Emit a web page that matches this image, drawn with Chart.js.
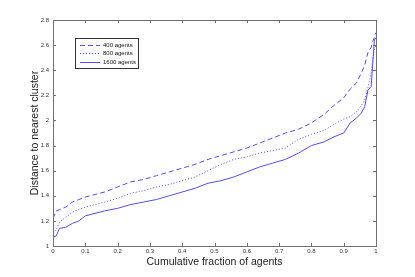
<!DOCTYPE html>
<html>
<head>
<meta charset="utf-8">
<script src="https://cdn.jsdelivr.net/npm/chart.js@4.4.1/dist/chart.umd.min.js"></script>
<style>
  html, body { margin: 0; padding: 0; background: #fff; }
</style>
</head>
<body>
<canvas id="chart" width="415" height="277"></canvas>
<script>
// cumulative fraction of agents where the curves were read
const fractions = [0, 0.01, 0.02, 0.04, 0.06, 0.08, 0.1, 0.13, 0.16, 0.2, 0.24, 0.28, 0.32, 0.36,
  0.4, 0.44, 0.48, 0.52, 0.56, 0.6, 0.64, 0.68, 0.72, 0.76, 0.8, 0.84, 0.87, 0.9, 0.92, 0.94,
  0.955, 0.965, 0.975, 0.985, 0.99, 0.995, 1];

// distance to nearest cluster
const dist400 = [1.22, 1.28, 1.29, 1.31, 1.35, 1.37, 1.39, 1.41, 1.43, 1.47, 1.51, 1.53, 1.56, 1.59,
  1.62, 1.65, 1.69, 1.72, 1.75, 1.78, 1.82, 1.86, 1.90, 1.93, 1.98, 2.05, 2.12, 2.18, 2.25, 2.30,
  2.38, 2.44, 2.54, 2.58, 2.63, 2.66, 2.70];
const dist800 = [1.10, 1.13, 1.19, 1.23, 1.27, 1.29, 1.31, 1.33, 1.35, 1.38, 1.42, 1.44, 1.47, 1.49,
  1.52, 1.55, 1.60, 1.65, 1.69, 1.71, 1.74, 1.76, 1.78, 1.85, 1.89, 1.92, 1.97, 2.01, 2.03, 2.07,
  2.12, 2.16, 2.26, 2.38, 2.50, 2.56, 2.60];
const dist1600 = [1.07, 1.08, 1.14, 1.15, 1.18, 1.20, 1.24, 1.26, 1.28, 1.30, 1.33, 1.35, 1.37, 1.40,
  1.43, 1.46, 1.50, 1.52, 1.55, 1.59, 1.63, 1.66, 1.69, 1.74, 1.80, 1.83, 1.87, 1.90, 1.98, 2.02,
  2.06, 2.11, 2.24, 2.27, 2.45, 2.64, 2.66];

const seriesLabels = ['400 agents', '800 agents', '1600 agents'];
const xTicks = [0, 0.1, 0.2, 0.3, 0.4, 0.5, 0.6, 0.7, 0.8, 0.9, 1];
const yTicks = [1, 1.2, 1.4, 1.6, 1.8, 2, 2.2, 2.4, 2.6, 2.8];

const blue = '#4f4ff2';
const pts = vals => vals.map((v, i) => ({ x: fractions[i], y: v }));

// box round the plot, with matlab style ticks pointing inwards
const frame = {
  id: 'frame',
  afterDatasetsDraw(chart) {
    const { ctx, chartArea: a, scales: { x, y } } = chart;
    ctx.save();
    ctx.strokeStyle = '#707070';
    ctx.lineWidth = 1;
    ctx.strokeRect(a.left + 0.5, a.top + 0.5, a.right - a.left, a.bottom - a.top);
    ctx.beginPath();
    x.ticks.forEach(t => {
      const px = Math.round(x.getPixelForValue(t.value)) + 0.5;
      ctx.moveTo(px, a.bottom); ctx.lineTo(px, a.bottom - 3);
      ctx.moveTo(px, a.top); ctx.lineTo(px, a.top + 3);
    });
    y.ticks.forEach(t => {
      const py = Math.round(y.getPixelForValue(t.value)) + 0.5;
      ctx.moveTo(a.left, py); ctx.lineTo(a.left + 3, py);
      ctx.moveTo(a.right, py); ctx.lineTo(a.right - 3, py);
    });
    ctx.stroke();
    ctx.restore();
  }
};

// legend box inside the plot, upper left
const insideLegend = {
  id: 'insideLegend',
  afterDraw(chart) {
    const { ctx, chartArea: a } = chart;
    const bx = a.left + 22, by = a.top + 18, bw = 63, bh = 30;
    ctx.save();
    ctx.fillStyle = '#fff';
    ctx.fillRect(bx, by, bw, bh);
    ctx.strokeStyle = '#333';
    ctx.lineWidth = 1;
    ctx.strokeRect(bx + 0.5, by + 0.5, bw, bh);
    ctx.font = '6px "Liberation Sans", Arial, sans-serif';
    ctx.textBaseline = 'middle';
    chart.data.datasets.forEach((ds, i) => {
      const ry = Math.round(by + 6.5 + i * 8.7) + 0.5;
      ctx.strokeStyle = ds.borderColor;
      ctx.setLineDash(ds.borderDash || []);
      ctx.beginPath();
      ctx.moveTo(bx + 5, ry); ctx.lineTo(bx + 25, ry);
      ctx.stroke();
      ctx.setLineDash([]);
      ctx.fillStyle = '#111';
      ctx.fillText(ds.label, bx + 28, ry);
    });
    ctx.restore();
  }
};

new Chart(document.getElementById('chart'), {
  type: 'line',
  data: {
    datasets: [
      { label: seriesLabels[0], data: pts(dist400), borderDash: [5, 3] },
      { label: seriesLabels[1], data: pts(dist800), borderDash: [1, 2] },
      { label: seriesLabels[2], data: pts(dist1600) }
    ].map(d => Object.assign({
      borderColor: blue, borderWidth: 1, pointRadius: 0, tension: 0, fill: false
    }, d))
  },
  options: {
    responsive: false,
    devicePixelRatio: 1,
    animation: false,
    layout: { padding: { top: 20, right: 39, left: 0, bottom: 0 } },
    plugins: { legend: { display: false }, tooltip: { enabled: false } },
    scales: {
      x: {
        type: 'linear', min: 0, max: 1,
        afterBuildTicks: s => { s.ticks = xTicks.map(v => ({ value: v })); },
        afterFit: s => { s.height = 31; },
        grid: { display: false, drawTicks: false },
        border: { display: false },
        ticks: {
          padding: 2, color: '#333', maxRotation: 0, autoSkip: false,
          font: { size: 6, family: '"Liberation Sans", Arial, sans-serif' },
          callback: v => String(+v.toFixed(1))
        },
        title: {
          display: true, text: 'Cumulative fraction of agents', color: '#222',
          padding: { top: 0, bottom: 9 },
          font: { size: 10.5, family: '"Liberation Sans", Arial, sans-serif' }
        }
      },
      y: {
        type: 'linear', min: 1, max: 2.8,
        afterBuildTicks: s => { s.ticks = yTicks.map(v => ({ value: v })); },
        afterFit: s => { s.width = 53; },
        grid: { display: false, drawTicks: false },
        border: { display: false },
        ticks: {
          padding: 4, color: '#333', autoSkip: false,
          font: { size: 6, family: '"Liberation Sans", Arial, sans-serif' },
          callback: v => String(+v.toFixed(1))
        },
        title: {
          display: true, text: 'Distance to nearest cluster', color: '#222',
          padding: { top: 29, bottom: 0 },
          font: { size: 10.5, family: '"Liberation Sans", Arial, sans-serif' }
        }
      }
    }
  },
  plugins: [frame, insideLegend]
});
</script>
</body>
</html>
